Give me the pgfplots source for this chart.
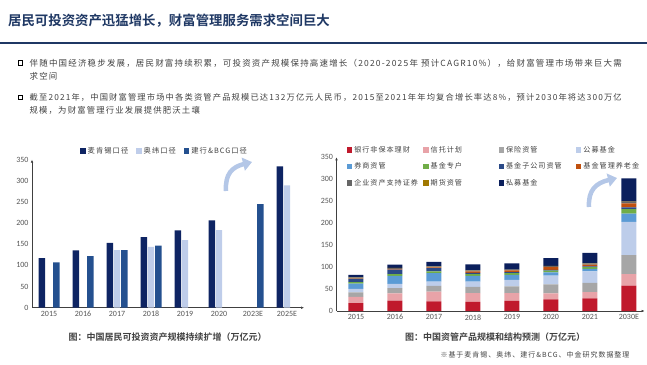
\documentclass[border=0pt]{standalone}
\usepackage{fontspec}
\setmainfont{Carlito}
\newfontfamily\cjk{Noto Sans CJK SC}[BoldFont={Noto Sans CJK SC Bold}]
\newfontfamily\cjkls{Noto Sans CJK SC}[LetterSpace=14]
\usepackage{pgfplots}
\usepackage{pgfplotstable}
\usepackage{graphicx}
\pgfplotsset{compat=1.18}
\usetikzlibrary{arrows.meta}
\definecolor{navy}{HTML}{1F3864}
\definecolor{mck}{HTML}{0E2463}
\definecolor{olw}{HTML}{BFCDEA}
\definecolor{bcg}{HTML}{24508F}
\definecolor{cRed}{HTML}{C0192C}
\definecolor{cPink}{HTML}{E8A3A8}
\definecolor{cGray}{HTML}{A6A6A6}
\definecolor{cLB}{HTML}{BDCDEA}
\definecolor{cBlue}{HTML}{5B9BD5}
\definecolor{cGreen}{HTML}{70AD47}
\definecolor{cNavy}{HTML}{2B4A87}
\definecolor{cOrange}{HTML}{C0500E}
\definecolor{cDGray}{HTML}{666666}
\definecolor{cOchre}{HTML}{A07800}
\definecolor{cDark}{HTML}{0B1F5C}
\definecolor{arrowblue}{HTML}{B4C7E7}
\definecolor{tickgray}{HTML}{555555}
\definecolor{txt}{HTML}{404040}

\pgfplotstableread{
x   yh   xt   bx   gm   qs   jz   zg   yl   qy   qh   sm
0   18   14   10.5 8    12   3    7    1.5  2    0.5  5.5
1   23.5 16.5 12   9.5  18.5 4    10.5 1.5  1.5  0.5  7.5
2   22   22   13   10   19   4    7.5  2    1.5  0.5  10.5
3   21   20   14   12   13   4    3    3    2    0.5  13.5
4   23   18   15   15   11   4    2.5  4    1.5  0.5  14
5   26.5 13.5 20.5 20   7.5  4    1.5  7    1.5  0.5  18
6   29   14   21   26   6    4    1.5  4    2.5  0.5  24
7   58   26   43   76   19   10   4    9    3    1    53
}\assets

\begin{document}
\begin{tikzpicture}[x=1pt,y=1pt]
\path[use as bounding box] (0,0) rectangle (647,-364);
% title and rule
\node[anchor=west,inner sep=0pt,text=navy] at (8,-20.5) {\cjk\bfseries\fontsize{13.4}{15}\selectfont 居民可投资资产迅猛增长，财富管理服务需求空间巨大};
\draw[navy,line width=1.6pt] (0,-42.7) -- (647,-42.7);
% bullets
\draw[black,line width=1.1pt] (18.3,-60.6) rectangle (22.9,-65.2);
\draw[black,line width=1.1pt] (18.3,-95.2) rectangle (22.9,-99.8);
\node[anchor=west,inner sep=0pt,text=txt] at (29.5,-63) {\resizebox{592pt}{!}{\cjkls\fontsize{8.75}{10}\selectfont 伴随中国经济稳步发展，居民财富持续积累，可投资资产规模保持高速增长（2020-2025年 预计CAGR10\%），给财富管理市场带来巨大需}};
\node[anchor=west,inner sep=0pt,text=txt] at (29.5,-76) {\cjkls\fontsize{8.45}{10}\selectfont 求空间};
\node[anchor=west,inner sep=0pt,text=txt] at (29.5,-97.5) {\resizebox{592pt}{!}{\cjkls\fontsize{8.75}{10}\selectfont 截至2021年，中国财富管理市场中各类资管产品规模已达132万亿元人民币，2015至2021年年均复合增长率达8\%，预计2030年将达300万亿}};
\node[anchor=west,inner sep=0pt,text=txt] at (29.5,-110.5) {\cjkls\fontsize{8.35}{10}\selectfont 规模，为财富管理行业发展提供肥沃土壤};

% left chart
\begin{axis}[at={(32pt,-307.7pt)}, anchor=south west, scale only axis,
  width=272pt, height=148pt, xmin=-0.5, xmax=7.5, ymin=0, ymax=350,
  axis lines=left, axis line style={black!75,line width=0.5pt,-{Latex[length=3pt,width=2.6pt]}},
  xtick={0,...,7}, xticklabels={2015,2016,2017,2018,2019,2020,2023E,2025E},
  ytick={0,50,...,350}, major tick length=0pt,
  tick label style={font=\fontsize{8}{9}\selectfont, text=tickgray},
  /pgf/number format/assume math mode=true,
  legend style={at={(0.177,1.099)}, anchor=north west, draw=none, fill=none, inner sep=0pt,
    font=\cjkls\fontsize{7.3}{8.5}\selectfont, text=txt, legend columns=3,
    /tikz/every even column/.append style={column sep=6pt}},
  legend image code/.code={\fill[#1,draw=none] (0pt,-2.7pt) rectangle (5.4pt,2.7pt);},
  bar width=6.4pt]
\addplot[ybar, bar shift=-7.2pt, fill=mck, draw=none] coordinates {(0,117.5) (1,135.5) (2,153.5) (3,167) (4,183) (5,206.5) (7,334)};
\addlegendentry{麦肯锡口径}
\addplot[ybar, bar shift=0pt, fill=olw, draw=none] coordinates {(2,136) (3,144) (4,160) (5,183.5) (7,289)};
\addlegendentry{奥纬口径}
\addplot[ybar, bar shift=7.4pt, fill=bcg, draw=none] coordinates {(0,107) (1,122) (2,136) (3,147) (6,245)};
\addlegendentry{建行\&BCG口径}
\end{axis}

% right chart
\begin{axis}[at={(336.5pt,-311pt)}, anchor=south west, scale only axis,
  width=308pt, height=153.7pt, xmin=-0.5, xmax=7.4, ymin=0, ymax=350,
  axis lines=left, axis line style={black!75,line width=0.5pt,-{Latex[length=3pt,width=2.6pt]}},
  xtick={0,...,7}, xticklabels={2015,2016,2017,2018,2019,2020,2021,2030E},
  ytick={0,50,...,350}, major tick length=0pt,
  tick label style={font=\fontsize{8}{9}\selectfont, text=tickgray},
  /pgf/number format/assume math mode=true,
  ybar stacked, bar width=15pt,
  legend style={at={(0.033,1.087)}, anchor=north west, draw=none, fill=none, inner sep=0pt,
    font=\cjkls\fontsize{7.1}{8.5}\selectfont, text=txt, legend columns=4,
    /tikz/every even column/.append style={column sep=0pt},
    /tikz/every odd column/.append style={column sep=0pt}, row sep=5pt},
  legend image code/.code={\fill[#1,draw=none] (0pt,-2.7pt) rectangle (5.4pt,2.7pt);}]
\addplot[fill=cRed, draw=none] table[x=x,y=yh] {\assets}; \addlegendentry{\makebox[67pt][l]{银行非保本理财}}
\addplot[fill=cPink, draw=none] table[x=x,y=xt] {\assets}; \addlegendentry{\makebox[66pt][l]{信托计划}}
\addplot[fill=cGray, draw=none] table[x=x,y=bx] {\assets}; \addlegendentry{\makebox[68pt][l]{保险资管}}
\addplot[fill=cLB, draw=none] table[x=x,y=gm] {\assets}; \addlegendentry{\makebox[56pt][l]{公募基金}}
\addplot[fill=cBlue, draw=none] table[x=x,y=qs] {\assets}; \addlegendentry{\makebox[67pt][l]{券商资管}}
\addplot[fill=cGreen, draw=none] table[x=x,y=jz] {\assets}; \addlegendentry{\makebox[66pt][l]{基金专户}}
\addplot[fill=cNavy, draw=none] table[x=x,y=zg] {\assets}; \addlegendentry{\makebox[68pt][l]{基金子公司资管}}
\addplot[fill=cOrange, draw=none] table[x=x,y=yl] {\assets}; \addlegendentry{\makebox[56pt][l]{基金管理养老金}}
\addplot[fill=cDGray, draw=none] table[x=x,y=qy] {\assets}; \addlegendentry{\makebox[67pt][l]{企业资产支持证券}}
\addplot[fill=cOchre, draw=none] table[x=x,y=qh] {\assets}; \addlegendentry{\makebox[66pt][l]{期货资管}}
\addplot[fill=cDark, draw=none] table[x=x,y=sm] {\assets}; \addlegendentry{\makebox[68pt][l]{私募基金}}
\end{axis}

% decorative arrows
\draw[arrowblue,line width=4.5pt,-{Triangle[length=9pt,width=13pt]}] (226,-191) .. controls (225,-174) and (232,-167) .. (252,-162);
\draw[arrowblue,line width=4.5pt,-{Triangle[length=9pt,width=13pt]}] (589,-207) .. controls (588,-190) and (596,-183) .. (617,-178);

% captions
\node[inner sep=0pt,text=txt] at (167.5,-337) {\cjk\bfseries\fontsize{9}{10}\selectfont 图：中国居民可投资资产规模持续扩增（万亿元）};
\node[inner sep=0pt,text=txt] at (495,-337.3) {\cjk\bfseries\fontsize{9}{10}\selectfont 图：中国资管产品规模和结构预测（万亿元）};
\node[inner sep=0pt,text=txt] at (535,-355) {\cjkls\fontsize{7}{8}\selectfont ※基于麦肯锡、奥纬、建行\&BCG、中金研究数据整理};
\end{tikzpicture}
\end{document}
